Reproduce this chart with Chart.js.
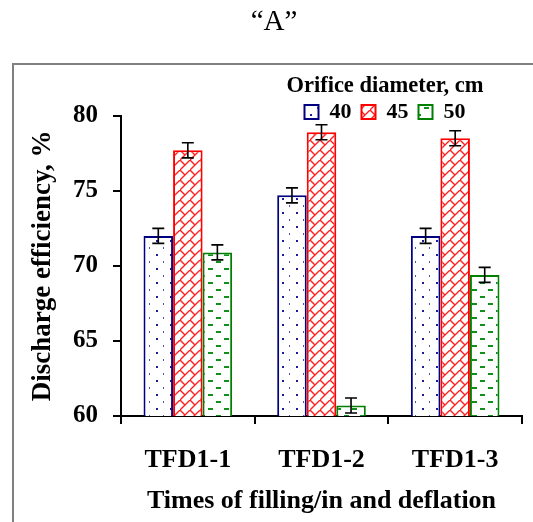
<!DOCTYPE html>
<html>
<head>
<meta charset="utf-8">
<script src="https://cdn.jsdelivr.net/npm/chart.js@4/dist/chart.umd.min.js"></script>
<style>
  html, body { margin: 0; padding: 0; background: #fff; }
  #wrap { position: relative; width: 533px; height: 522px; overflow: hidden; }
  #frame {
    position: absolute; left: 12px; top: 63px; width: 600px; height: 600px;
    border-left: 2px solid #808080; border-top: 2px solid #808080;
  }
  #chart { position: absolute; left: 0; top: 0; }
</style>
</head>
<body>
<div id="wrap">
  <div id="frame"></div>
  <canvas id="chart" width="533" height="522"></canvas>
</div>
<script>
// data
const categories = ['TFD1-1', 'TFD1-2', 'TFD1-3'];
const seriesNames = ['40', '45', '50'];
const eff40 = [72.0, 74.7, 72.0];
const eff45 = [77.7, 78.9, 78.5];
const eff50 = [70.9, 60.7, 69.4];
const err40 = [0.5, 0.5, 0.5];
const err45 = [0.5, 0.5, 0.5];
const err50 = [0.5, 0.5, 0.5];
const yTicks = [60, 65, 70, 75, 80];

const SERIF = "'Liberation Serif', 'Times New Roman', serif";
Chart.defaults.font.family = SERIF;
Chart.defaults.color = '#000';

// ── fill patterns ──────────────────────────────────────────────
function makePattern(w, h, draw) {
    const c = document.createElement('canvas');
    c.width = w; c.height = h;
    const g = c.getContext('2d');
    g.fillStyle = '#fff';
    g.fillRect(0, 0, w, h);
    draw(g);
    return g.createPattern(c, 'repeat');
}

const dots = makePattern(14, 14, g => {
    g.fillStyle = '#1a1a9a';
    g.fillRect(2, 2, 2, 2);
    g.fillStyle = '#5050b8';
    g.fillRect(9, 9, 1, 2);
});

const bricks = makePattern(10, 10, g => {
    g.strokeStyle = '#ff2020';
    g.lineWidth = 1.4;
    g.beginPath();
    g.moveTo(-1, 11); g.lineTo(11, -1);
    g.moveTo(0, 0); g.lineTo(5, 5);
    g.moveTo(10, 10); g.lineTo(11, 11);
    g.stroke();
});

const dashes = makePattern(16, 14, g => {
    g.fillStyle = '#10901a';
    g.fillRect(0, 2, 5, 2);
    g.fillRect(8, 9, 5, 2);
});

// ── error bars drawn through the y scale ────────────────────────
const errorBars = {
    id: 'errorBars',
    afterDatasetsDraw(chart) {
        const { ctx, scales: { y } } = chart;
        ctx.save();
        ctx.strokeStyle = '#000';
        ctx.lineWidth = 1.6;
        chart.data.datasets.forEach((ds, i) => {
            const meta = chart.getDatasetMeta(i);
            meta.data.forEach((bar, j) => {
                const v = ds.data[j], e = ds.errors[j];
                const top = y.getPixelForValue(v + e);
                const bot = y.getPixelForValue(v - e);
                ctx.beginPath();
                ctx.moveTo(bar.x, top); ctx.lineTo(bar.x, bot);
                ctx.moveTo(bar.x - 6, top); ctx.lineTo(bar.x + 6, top);
                ctx.moveTo(bar.x - 6, bot); ctx.lineTo(bar.x + 6, bot);
                ctx.stroke();
            });
        });
        ctx.restore();
    },
};

// move the legend block to where the reference has it (over the right half)
const LEGEND_CX = 385, LEGEND_TOP = 75;
const legendPlace = {
    id: 'legendPlace',
    afterLayout(chart) {
        const lg = chart.legend;
        const dx = LEGEND_CX - (lg.left + lg.right) / 2;
        const dy = LEGEND_TOP - lg.top;
        lg.left += dx; lg.right += dx;
        lg.top += dy; lg.bottom += dy;
    },
};

const tickFont = { size: 25, weight: 'bold', family: SERIF };
const xTickFont = { size: 26, weight: 'bold', family: SERIF };

new Chart(document.getElementById('chart'), {
    type: 'bar',
    data: {
        labels: categories,
        datasets: [
            { label: seriesNames[0], data: eff40, errors: err40, backgroundColor: dots,   borderColor: '#000080' },
            { label: seriesNames[1], data: eff45, errors: err45, backgroundColor: bricks, borderColor: '#ff0000' },
            { label: seriesNames[2], data: eff50, errors: err50, backgroundColor: dashes, borderColor: '#008000' },
        ],
    },
    options: {
        responsive: false,
        animation: false,
        categoryPercentage: 0.663,
        barPercentage: 1.0,
        datasets: { bar: { borderWidth: 2 } },
        layout: { padding: { left: 26, right: 11, top: 0, bottom: 0 } },
        plugins: {
            title: {
                display: true,
                text: '\u201CA\u201D',
                font: { size: 29, weight: 'normal', family: SERIF },
                color: '#000',
                padding: { top: 5, bottom: 18 },
            },
            legend: {
                position: 'top',
                align: 'center',
                title: {
                    display: true,
                    text: 'Orifice diameter, cm',
                    font: { size: 22.5, weight: 'bold', family: SERIF },
                    color: '#000',
                    padding: { top: 0, bottom: -11 },
                },
                labels: {
                    boxWidth: 14,
                    boxHeight: 14,
                    padding: 10,
                    color: '#000',
                    font: { size: 22, weight: 'bold', family: SERIF },
                },
            },
            tooltip: { enabled: false },
        },
        scales: {
            x: {
                afterFit(scale) { scale.height = 106; },
                border: { color: '#000', width: 2 },
                grid: { drawOnChartArea: false, tickLength: 8, color: '#000', lineWidth: 2 },
                ticks: { font: xTickFont, color: '#000', padding: 21 },
                title: {
                    display: true,
                    text: 'Times of filling/in and deflation',
                    font: xTickFont,
                    color: '#000',
                    padding: { top: 0, bottom: 5 },
                },
            },
            y: {
                min: yTicks[0],
                max: yTicks[yTicks.length - 1],
                afterFit(scale) { scale.width = 95; },
                afterBuildTicks(scale) { scale.ticks = yTicks.map(v => ({ value: v })); },
                border: { color: '#000', width: 2 },
                grid: { drawOnChartArea: false, tickLength: 8, color: '#000', lineWidth: 2 },
                ticks: { font: tickFont, color: '#000', padding: 15 },
                title: {
                    display: true,
                    text: 'Discharge efficiency, %',
                    font: { size: 27, weight: 'bold', family: SERIF },
                    color: '#000',
                    padding: { top: 1, bottom: 0 },
                },
            },
        },
    },
    plugins: [errorBars, legendPlace],
});
</script>
</body>
</html>
